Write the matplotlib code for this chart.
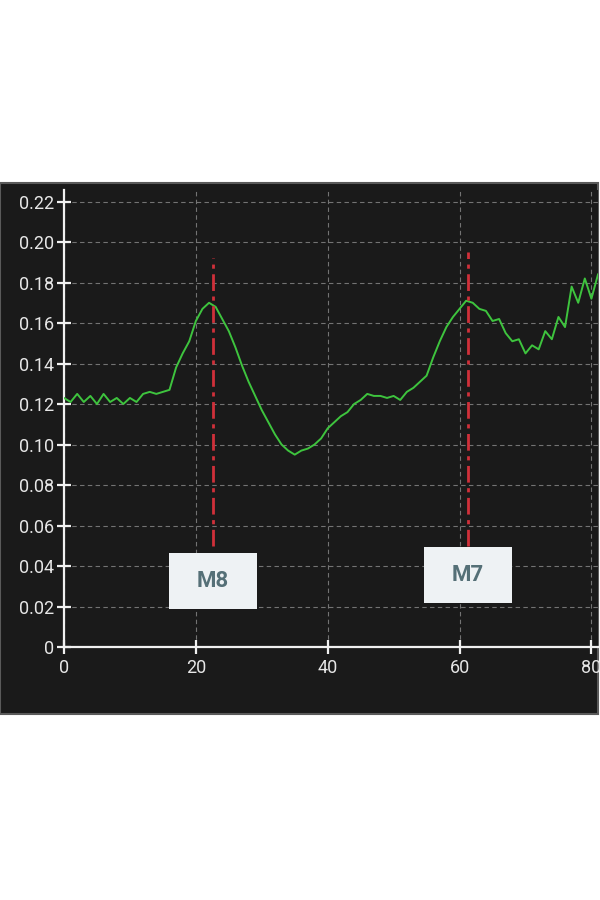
import matplotlib
matplotlib.use("Agg")
import matplotlib.pyplot as plt
from matplotlib.patches import Rectangle

# ---- data ----
x_vals = list(range(0, 82))
y_vals = [0.123, 0.121, 0.125, 0.121, 0.124, 0.120, 0.125, 0.121, 0.123, 0.120,
          0.123, 0.121, 0.125, 0.126, 0.125, 0.126, 0.127, 0.138, 0.145, 0.151,
          0.161, 0.167, 0.170, 0.168, 0.162, 0.156, 0.148, 0.139, 0.131, 0.124,
          0.117, 0.111, 0.105, 0.100, 0.097, 0.095, 0.097, 0.098, 0.100, 0.103,
          0.108, 0.111, 0.114, 0.116, 0.120, 0.122, 0.125, 0.124, 0.124, 0.123,
          0.124, 0.122, 0.126, 0.128, 0.131, 0.134, 0.143, 0.151, 0.158, 0.163,
          0.167, 0.171, 0.170, 0.167, 0.166, 0.161, 0.162, 0.155, 0.151, 0.152,
          0.145, 0.149, 0.147, 0.156, 0.152, 0.163, 0.158, 0.178, 0.170, 0.182,
          0.172, 0.184]
marker_names = ["M8", "M7"]
marker_x = [22.6, 61.3]
marker_ylo = [0.050, 0.050]
marker_yhi = [0.192, 0.195]
label_y = [0.0326, 0.0356]
x_ticks = [0, 20, 40, 60, 80]
y_ticks = [0, 0.02, 0.04, 0.06, 0.08, 0.10, 0.12, 0.14, 0.16, 0.18, 0.20, 0.22]
y_tick_labels = ["0", "0.02", "0.04", "0.06", "0.08", "0.10", "0.12", "0.14",
                 "0.16", "0.18", "0.20", "0.22"]

plt.rcParams['font.family'] = ['Roboto', 'DejaVu Sans']

fig = plt.figure(figsize=(6, 9), dpi=100)
fig.patch.set_facecolor("white")

dark = "#1a1a1a"
# dark panel
panel = Rectangle((0.0, (900 - 714) / 900), 598 / 600, (714 - 183) / 900,
                  transform=fig.transFigure, facecolor=dark, edgecolor="#5a5a5a",
                  linewidth=1.5, zorder=-5)
fig.add_artist(panel)

ax = fig.add_axes([64 / 600, (900 - 647) / 900, (598 - 64) / 600, (647 - 190) / 900])
ax.set_zorder(2)
ax.set_facecolor(dark)
ax.set_xlim(0, 81)
ax.set_ylim(0, 0.2257)

ax.plot(x_vals, y_vals, color="#3ec43e", linewidth=1.4, zorder=3)

for name, mx, lo, hi, ly in zip(marker_names, marker_x, marker_ylo, marker_yhi, label_y):
    ax.plot([mx, mx], [lo, hi], color="#d0303a", linewidth=2.0,
            linestyle=(0, (6, 2, 1.5, 2)), zorder=4)
    bw, bh = 13.4, 0.0280
    ax.add_patch(Rectangle((mx - bw / 2, ly - bh / 2), bw, bh, facecolor="#eef2f4",
                           edgecolor="none", zorder=5))
    ax.text(mx, ly, name, ha="center", va="center", fontsize=16, fontweight="bold",
            color="#557077", zorder=6)

ax.set_xticks(x_ticks)
ax.set_yticks(y_ticks)
ax.set_yticklabels(y_tick_labels)
ax.grid(True, color="#8a8a8a", linestyle=(0, (4, 3)), linewidth=0.8, alpha=0.8)
ax.set_axisbelow(True)

for s in ["top", "right"]:
    ax.spines[s].set_visible(False)
for s in ["left", "bottom"]:
    ax.spines[s].set_color("#f0f0f0")
    ax.spines[s].set_linewidth(1.6)
ax.tick_params(axis="both", direction="inout", length=10, width=1.6,
               colors="#f0f0f0", labelsize=13, labelcolor="#e6e6e6")
ax.tick_params(axis="y", pad=2)

fig.savefig("out.png", dpi=100, facecolor="white")
